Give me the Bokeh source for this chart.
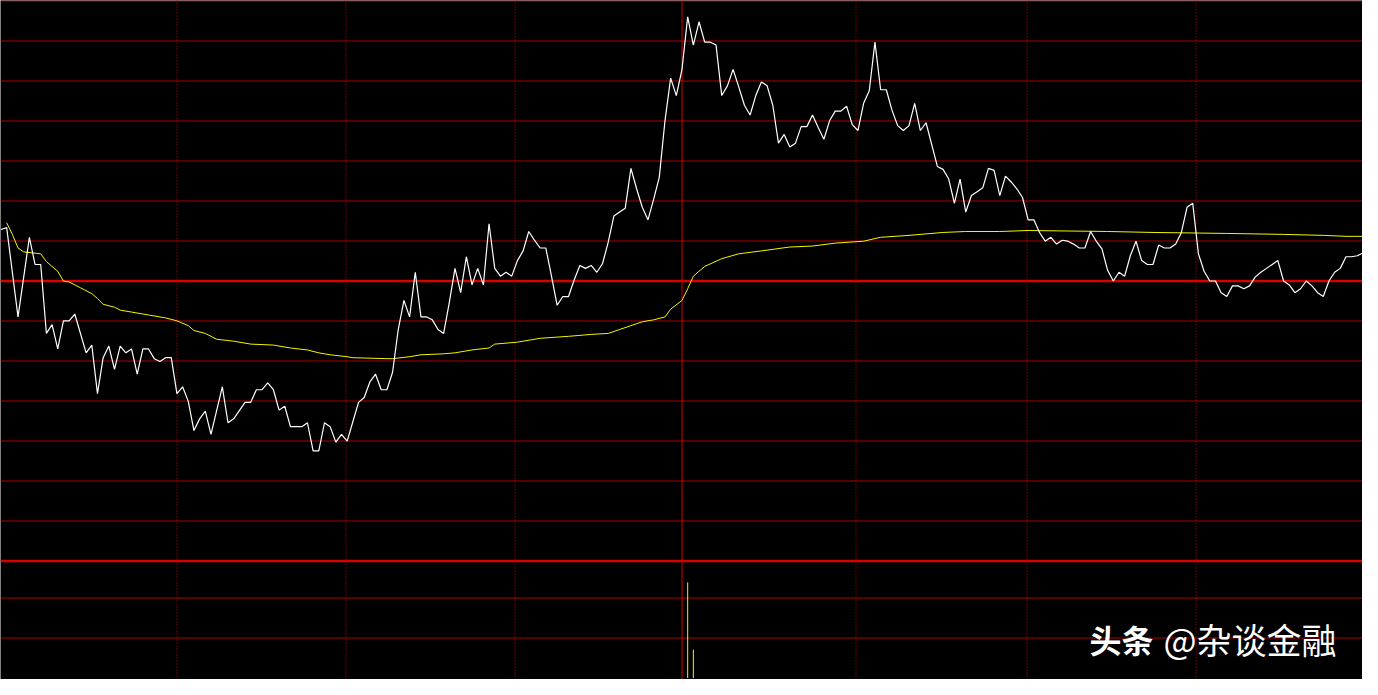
from bokeh.plotting import figure
from bokeh.models import Range1d, Span, Label
from bokeh.embed import file_html
from bokeh.resources import INLINE

# ---- intraday price (white line): minute index -> price
minute = [0, 1, 3, 5, 6, 7, 8, 9, 10, 11, 12, 13, 15, 16, 17, 18, 19, 20, 21, 22,
          23, 24, 25, 26, 27, 28, 29, 30, 31, 32, 33, 34, 35, 36, 37, 39, 40, 41, 43, 44,
          45, 46, 47, 48, 49, 50, 51, 53, 54, 55, 56, 57, 58, 59, 60, 61, 62, 63, 64, 65,
          66, 67, 68, 69, 70, 71, 72, 73, 74, 75, 76, 77, 78, 79, 80, 81, 82, 83, 84, 85,
          86, 87, 88, 89, 90, 91, 92, 93, 94, 95, 96, 97, 98, 99, 100, 101, 102, 103, 104, 105,
          106, 107, 108, 109, 110, 111, 112, 113, 114, 115, 116, 117, 118, 119, 120, 121, 122, 123, 124, 125,
          126, 127, 128, 129, 130, 131, 132, 133, 134, 135, 136, 137, 138, 139, 140, 141, 142, 143, 144, 145,
          146, 147, 148, 149, 150, 151, 152, 153, 154, 155, 156, 157, 158, 159, 160, 161, 162, 163, 165, 166,
          167, 168, 169, 170, 171, 172, 173, 174, 175, 176, 177, 178, 179, 180, 181, 182, 183, 184, 185, 186,
          187, 188, 189, 190, 191, 192, 193, 194, 195, 196, 197, 198, 199, 200, 201, 202, 203, 204, 205, 206,
          207, 208, 209, 210, 211, 212, 213, 214, 215, 216, 217, 218, 219, 220, 221, 222, 223, 224, 225, 226,
          227, 228, 229, 230, 231, 232, 233, 234, 235, 236, 237, 238, 239, 240]
price = [10.053, 10.055, 9.963, 10.045, 10.017, 10.017, 9.946, 9.955, 9.930, 9.959, 9.959, 9.966, 9.926, 9.934, 9.884, 9.921, 9.933, 9.909, 9.933, 9.926,
         9.930, 9.904, 9.930, 9.930, 9.920, 9.917, 9.921, 9.921, 9.884, 9.891, 9.876, 9.846, 9.858, 9.866, 9.842, 9.891, 9.854, 9.858, 9.875, 9.875,
         9.888, 9.888, 9.895, 9.888, 9.867, 9.871, 9.850, 9.850, 9.854, 9.825, 9.825, 9.854, 9.850, 9.834, 9.842, 9.835, 9.855, 9.875, 9.880, 9.896,
         9.904, 9.888, 9.888, 9.906, 9.950, 9.980, 9.963, 10.009, 9.963, 9.963, 9.960, 9.950, 9.946, 9.978, 10.013, 9.988, 10.025, 9.996, 10.013, 9.996,
         10.059, 10.013, 10.005, 10.009, 10.005, 10.021, 10.031, 10.051, 10.042, 10.034, 10.034, 10.005, 9.975, 9.984, 9.984, 10.001, 10.016, 10.013, 10.016, 10.009,
         10.018, 10.040, 10.067, 10.071, 10.075, 10.116, 10.095, 10.076, 10.063, 10.084, 10.107, 10.165, 10.209, 10.191, 10.218, 10.272, 10.243, 10.267, 10.246, 10.246,
         10.243, 10.191, 10.201, 10.218, 10.200, 10.181, 10.171, 10.191, 10.205, 10.201, 10.181, 10.142, 10.151, 10.138, 10.142, 10.159, 10.159, 10.171, 10.158, 10.146,
         10.165, 10.175, 10.175, 10.180, 10.161, 10.155, 10.183, 10.196, 10.246, 10.197, 10.197, 10.176, 10.160, 10.155, 10.160, 10.183, 10.155, 10.163, 10.118, 10.115,
         10.105, 10.080, 10.105, 10.071, 10.088, 10.092, 10.096, 10.116, 10.114, 10.088, 10.108, 10.102, 10.095, 10.086, 10.063, 10.063, 10.050, 10.041, 10.045, 10.038,
         10.042, 10.041, 10.038, 10.034, 10.034, 10.051, 10.041, 10.033, 10.011, 10.000, 10.009, 10.005, 10.026, 10.041, 10.021, 10.017, 10.017, 10.037, 10.034, 10.034,
         10.038, 10.050, 10.076, 10.080, 10.028, 10.010, 10.000, 10.000, 9.988, 9.984, 9.995, 9.995, 9.992, 9.995, 10.004, 10.009, 10.013, 10.017, 10.021, 10.000,
         9.996, 9.988, 9.992, 10.000, 9.995, 9.988, 9.984, 10.000, 10.009, 10.013, 10.025, 10.025, 10.026, 10.029]

# ---- average price (yellow line)
avg_minute = [1, 2, 3, 4, 7, 8, 10, 11, 12, 14, 16, 17, 18, 20, 21, 23, 26, 29, 31, 33,
              34, 36, 38, 41, 44, 48, 51, 54, 56, 58, 61, 62, 68, 69, 72, 74, 78, 80, 83, 86,
              87, 91, 95, 100, 104, 107, 109, 111, 113, 115, 117, 118, 120, 121, 122, 124, 127, 130, 134, 139,
              143, 147, 152, 155, 160, 166, 170, 176, 181, 195, 203, 216, 226, 233, 237, 240]
avg_price = [10.060, 10.048, 10.034, 10.030, 10.028, 10.020, 10.010, 10.000, 9.999, 9.993, 9.987, 9.982, 9.976, 9.973, 9.970, 9.968, 9.965, 9.962, 9.959, 9.954,
             9.949, 9.946, 9.940, 9.938, 9.935, 9.934, 9.931, 9.929, 9.926, 9.924, 9.922, 9.921, 9.920, 9.920, 9.922, 9.924, 9.925, 9.926, 9.929, 9.931,
             9.935, 9.937, 9.941, 9.943, 9.945, 9.946, 9.950, 9.954, 9.958, 9.960, 9.963, 9.971, 9.980, 9.992, 10.005, 10.015, 10.023, 10.028, 10.031, 10.035,
             10.036, 10.039, 10.041, 10.045, 10.047, 10.050, 10.051, 10.051, 10.052, 10.051, 10.050, 10.049, 10.048, 10.047, 10.046, 10.046]

# ---- volume bars
vol_minute = [121, 122]
volume = [9800, 2900]

PREV_CLOSE = 10.00
GRID_STEP = 0.0412
VOL_MAX = 12300

BG = "#000000"
THIN_RED = "#b00000"
THICK_RED = "#d80000"
DOT_RED = "#d00000"

W, H = 1362, 679
PX_PER_UNIT = 40 / GRID_STEP          # 40 px between price grid lines
Y_TOP = PREV_CLOSE + 7 * GRID_STEP + 0.5 / PX_PER_UNIT
Y_BOT = Y_TOP - H / PX_PER_UNIT
VOL_PER_PX = VOL_MAX / 120            # volume pane: 3 grid rows of 40 px
X_PX = W / 240

p = figure(width=W, height=H, output_backend="svg", toolbar_location=None,
           x_range=Range1d(-0.5 / X_PX, 240 - 0.5 / X_PX),
           y_range=Range1d(Y_BOT, Y_TOP),
           min_border=0, background_fill_color=BG, border_fill_color=BG)
p.extra_y_ranges = {"vol": Range1d(-1.5 * VOL_PER_PX, (H - 1.5) * VOL_PER_PX)}
p.axis.visible = False
p.grid.visible = False
p.outline_line_color = None

# horizontal price grid
for k in range(-7, 8):
    thick = k in (0, -7)
    p.add_layout(Span(location=PREV_CLOSE + k * GRID_STEP, dimension="width",
                      line_color=THICK_RED if thick else THIN_RED,
                      line_width=2.5 if thick else 1, level="underlay"))
# volume pane grid
for f in (1 / 3, 2 / 3):
    p.add_layout(Span(location=VOL_MAX * f, dimension="width", y_range_name="vol",
                      line_color=THIN_RED, line_width=1, level="underlay"))
# vertical time grid (snapped to pixel centres)
for xv in [31, 60.8, 90.6, 150.7, 180.8, 210.6]:
    xs = (round(xv * X_PX) + 0.5) / X_PX - 0.5 / X_PX
    p.add_layout(Span(location=xs, dimension="height", line_color=DOT_RED,
                      line_width=1, line_dash="1 2", level="underlay"))
p.add_layout(Span(location=120, dimension="height", line_color=THICK_RED,
                  line_width=1, level="underlay"))

p.line(avg_minute, avg_price, line_color="#f5f500", line_width=1)
p.line(minute, price, line_color="#ffffff", line_width=1.2)
p.segment(x0=vol_minute, y0=[0] * len(vol_minute), x1=vol_minute, y1=volume,
          y_range_name="vol", line_color="#f5f500", line_width=1)

p.add_layout(Label(x=1089, y=41, x_units="screen", y_units="screen", text="头条",
                   text_font="Noto Sans CJK SC", text_font_style="bold",
                   text_font_size="32px", text_color="white", text_baseline="middle"))
p.add_layout(Label(x=1163, y=41, x_units="screen", y_units="screen", text="@杂谈金融",
                   text_font="Noto Sans CJK SC", text_font_size="35px",
                   text_color="white", text_baseline="middle"))

open("out.html", "w").write(file_html(p, INLINE))
